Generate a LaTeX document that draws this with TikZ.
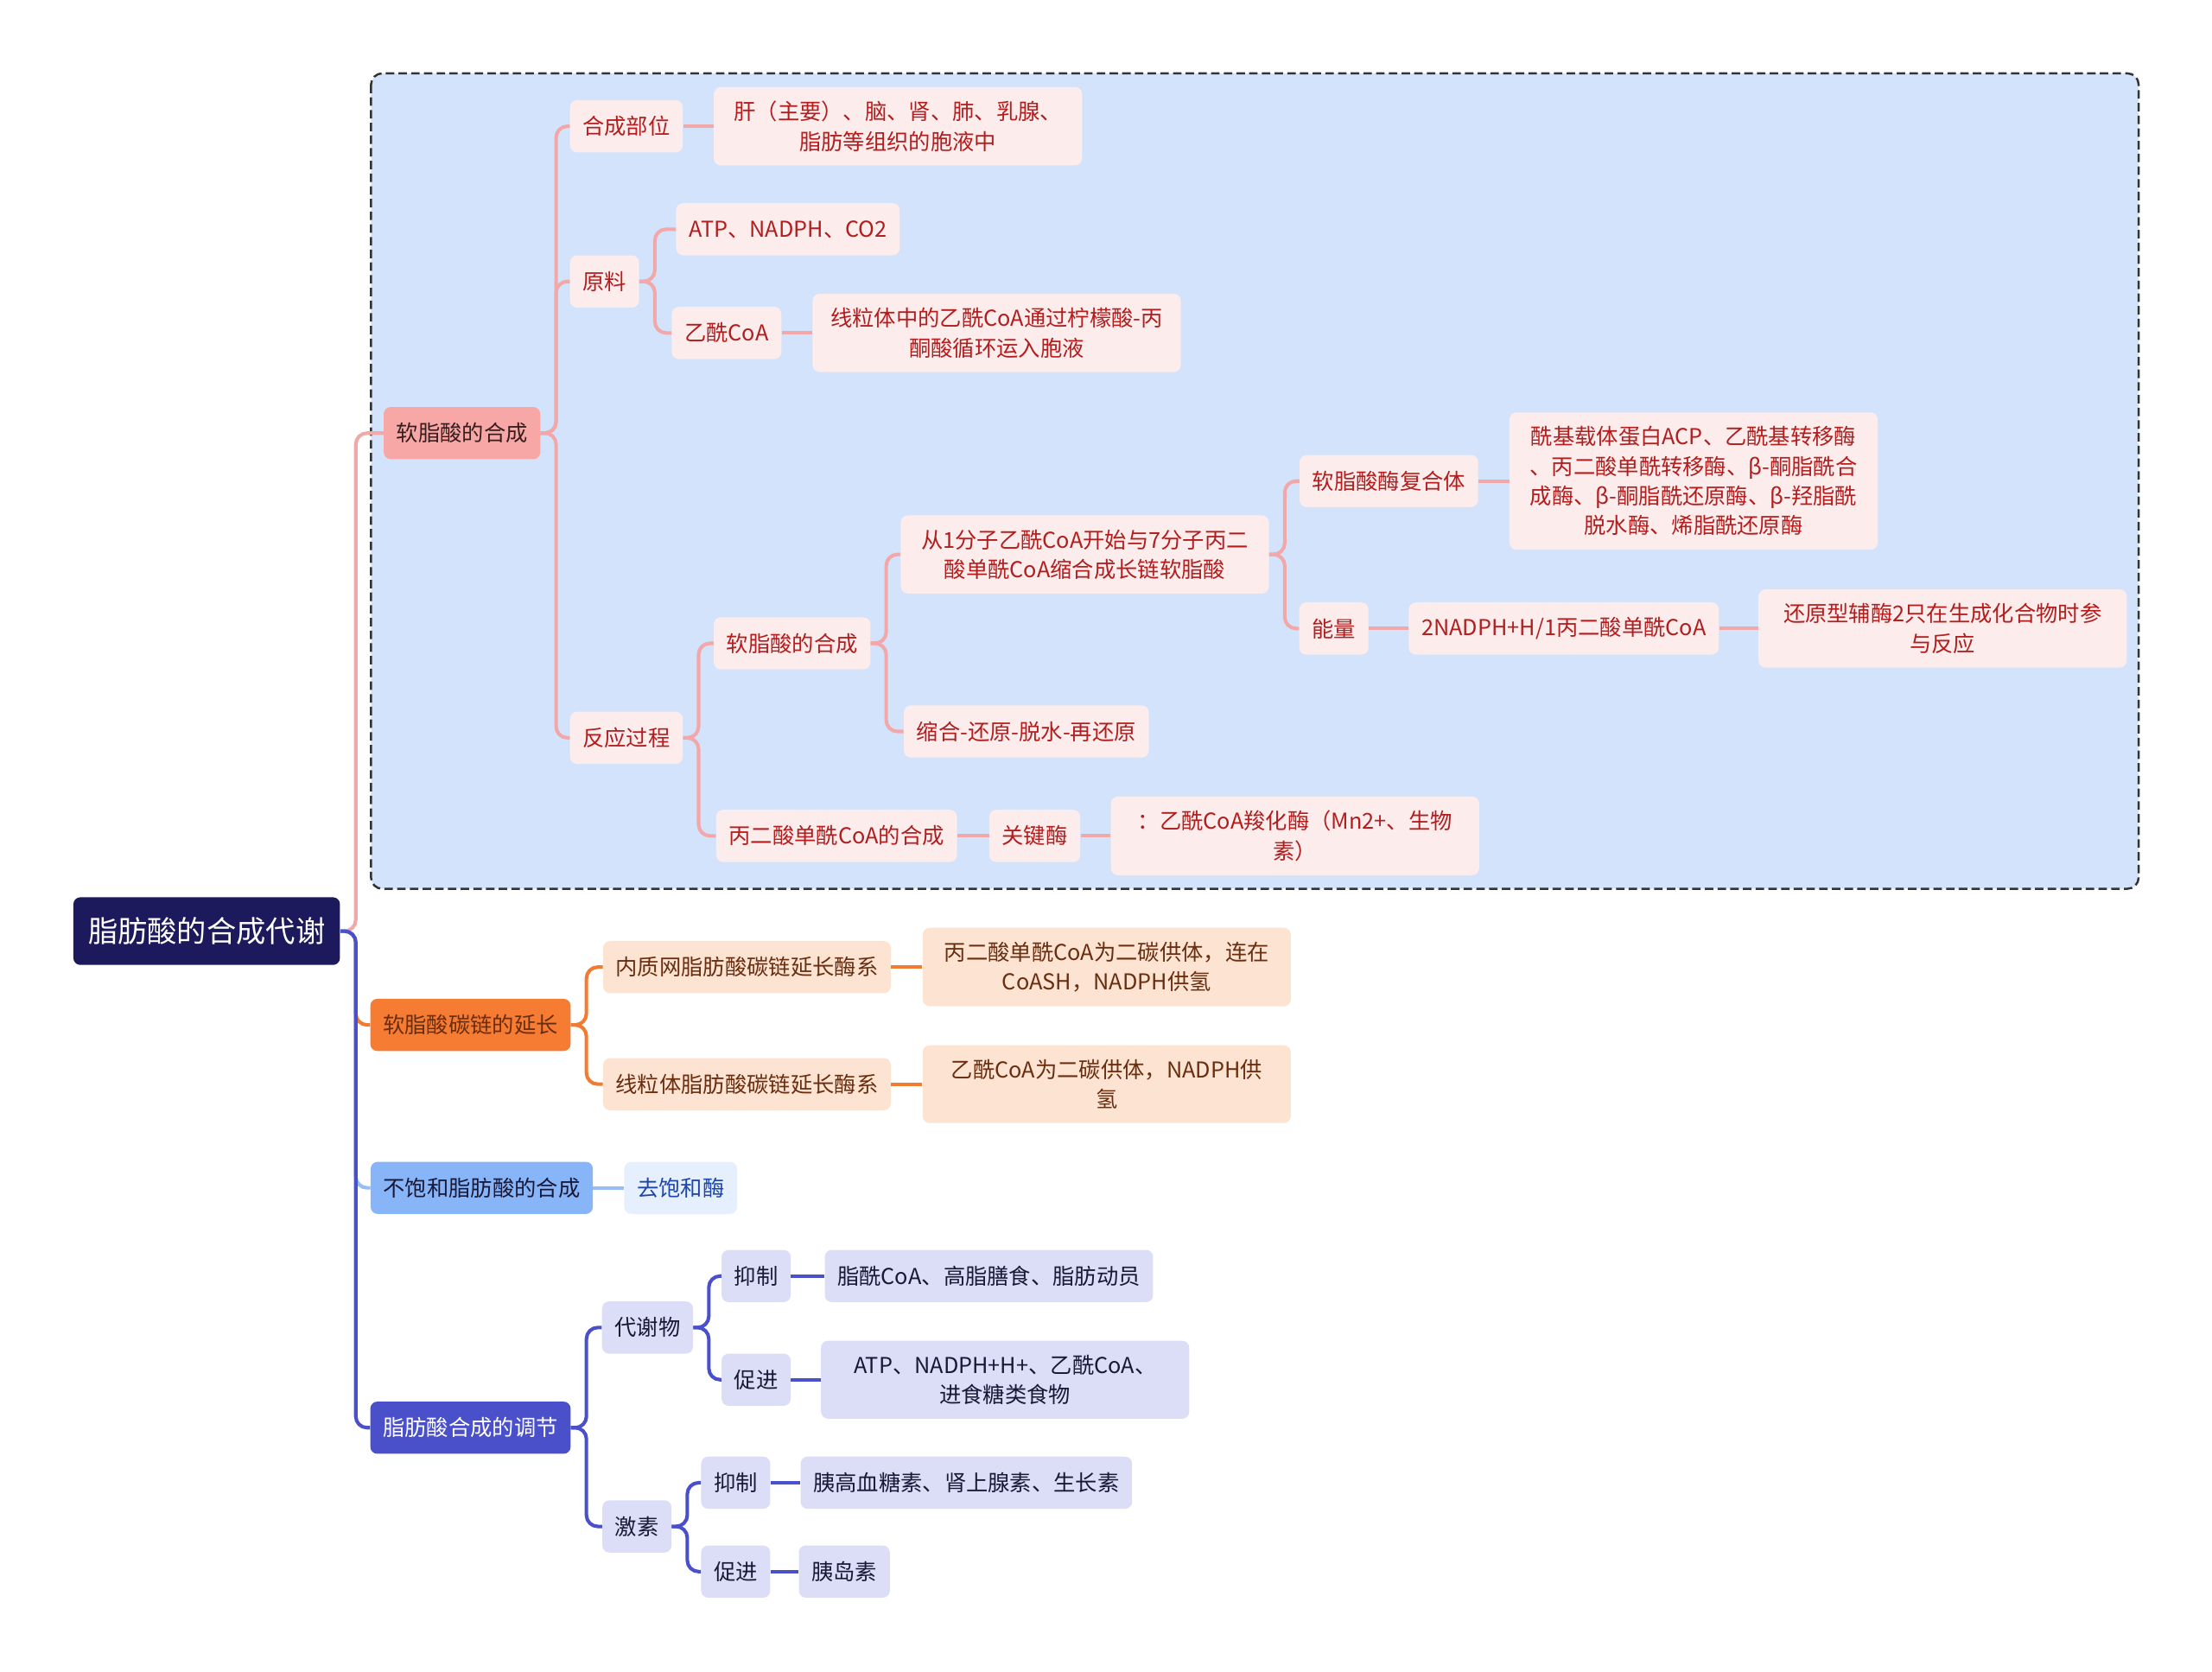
\documentclass[tikz,border=0pt]{standalone}
\usepackage{fontspec}
\newfontfamily\cjk{Noto Sans CJK SC}
\definecolor{rootnavy}{RGB}{28,26,92}
\definecolor{areablue}{RGB}{211,227,252}
\definecolor{pinkhead}{RGB}{247,167,166}
\definecolor{pinkleaf}{RGB}{253,236,236}
\definecolor{pinkink}{RGB}{178,30,30}
\definecolor{pinkwire}{RGB}{242,168,168}
\definecolor{orangehead}{RGB}{246,123,51}
\definecolor{orangeleaf}{RGB}{253,227,210}
\definecolor{orangeink}{RGB}{105,45,15}
\definecolor{orangewire}{RGB}{240,124,50}
\definecolor{bluehead}{RGB}{136,181,248}
\definecolor{blueleaf}{RGB}{230,239,253}
\definecolor{blueink}{RGB}{30,70,170}
\definecolor{bluewire}{RGB}{150,190,245}
\definecolor{indigohead}{RGB}{74,79,202}
\definecolor{indigoleaf}{RGB}{220,221,247}
\definecolor{indigoink}{RGB}{25,25,55}
\definecolor{headink}{RGB}{55,30,30}
\tikzset{
  box/.style={rounded corners=5pt, inner xsep=9pt, inner ysep=10pt, minimum height=37pt,
    align=center, font={\cjk\fontsize{15.5}{21}\selectfont}},
  wrap/.style={text width=245pt, inner xsep=8pt},
  rootbox/.style={box, fill=rootnavy, text=white, inner xsep=10.5pt, minimum height=48pt,
    font={\cjk\fontsize{21}{26}\selectfont}},
  pinktop/.style={box, fill=pinkhead, text=headink},
  pinkbox/.style={box, fill=pinkleaf, text=pinkink},
  orangetop/.style={box, fill=orangehead, text=orangeink},
  orangebox/.style={box, fill=orangeleaf, text=orangeink},
  bluetop/.style={box, fill=bluehead, text=indigoink},
  bluebox/.style={box, fill=blueleaf, text=blueink},
  indigotop/.style={box, fill=indigohead, text=white},
  indigobox/.style={box, fill=indigoleaf, text=indigoink},
  wire/.style={line width=2.5pt, rounded corners=8pt},
}
\begin{document}
\begin{tikzpicture}[x=1pt,y=-1pt]
  \useasboundingbox (0,0) rectangle (1568,1185);
  \draw[fill=areablue, draw=black!80, line width=1.5pt, dash pattern=on 6pt off 3pt, rounded corners=8pt]
    (263,52) rectangle (1516,630);

  \node[rootbox] (root) at (146.5,660) {脂肪酸的合成代谢};

  \node[pinktop] (palm) at (327.5,307) {软脂酸的合成};
  \node[pinkbox] (site) at (444,89.5) {合成部位};
  \node[pinkbox, wrap] (siteT) at (636.5,89.5) {肝（主要）、脑、肾、肺、乳腺、\\脂肪等组织的胞液中};
  \node[pinkbox] (raw) at (428.5,199.5) {原料};
  \node[pinkbox] (rawA) at (558.5,162.5) {ATP、NADPH、CO2};
  \node[pinkbox] (rawB) at (515,236) {乙酰CoA};
  \node[pinkbox, wrap] (rawBT) at (706.5,236) {线粒体中的乙酰CoA通过柠檬酸-丙\\酮酸循环运入胞液};
  \node[pinkbox] (proc) at (444,523) {反应过程};
  \node[pinkbox] (psyn) at (561.5,456) {软脂酸的合成};
  \node[pinkbox, wrap] (pstart) at (769,393) {从1分子乙酰CoA开始与7分子丙二\\酸单酰CoA缩合成长链软脂酸};
  \node[pinkbox] (pstep) at (727.5,518.5) {缩合-还原-脱水-再还原};
  \node[pinkbox] (cplx) at (984.5,341) {软脂酸酶复合体};
  \node[pinkbox, wrap] (cplxT) at (1200.5,341) {酰基载体蛋白ACP、乙酰基转移酶\\、丙二酸单酰转移酶、β-酮脂酰合\\成酶、β-酮脂酰还原酶、β-羟脂酰\\脱水酶、烯脂酰还原酶};
  \node[pinkbox] (energy) at (945.5,445.5) {能量};
  \node[pinkbox] (nadph) at (1108.5,445.5) {2NADPH+H/1丙二酸单酰CoA};
  \node[pinkbox, wrap] (nadphT) at (1377,445.5) {还原型辅酶2只在生成化合物时参\\与反应};
  \node[pinkbox] (mal) at (593,592.5) {丙二酸单酰CoA的合成};
  \node[pinkbox] (key) at (733.5,592.5) {关键酶};
  \node[pinkbox, wrap] (keyT) at (918,592.5) {：乙酰CoA羧化酶（Mn2+、生物\\素）};

  \node[orangetop] (elong) at (333.5,726.5) {软脂酸碳链的延长};
  \node[orangebox] (er) at (529.5,685.5) {内质网脂肪酸碳链延长酶系};
  \node[orangebox, wrap] (erT) at (784.5,685.5) {丙二酸单酰CoA为二碳供体，连在\\CoASH，NADPH供氢};
  \node[orangebox] (mito) at (529.5,768.5) {线粒体脂肪酸碳链延长酶系};
  \node[orangebox, wrap] (mitoT) at (784.5,768.5) {乙酰CoA为二碳供体，NADPH供\\氢};

  \node[bluetop] (unsat) at (341.5,842) {不饱和脂肪酸的合成};
  \node[bluebox] (desat) at (482.5,842) {去饱和酶};

  \node[indigotop] (reg) at (333.5,1012) {脂肪酸合成的调节};
  \node[indigobox] (metab) at (459,941) {代谢物};
  \node[indigobox] (inhA) at (536,904.5) {抑制};
  \node[indigobox] (inhAT) at (701,904.5) {脂酰CoA、高脂膳食、脂肪动员};
  \node[indigobox] (proA) at (536,978) {促进};
  \node[indigobox, wrap] (proAT) at (712.5,978) {ATP、NADPH+H+、乙酰CoA、\\进食糖类食物};
  \node[indigobox] (horm) at (451.5,1082) {激素};
  \node[indigobox] (inhB) at (521.5,1051) {抑制};
  \node[indigobox] (inhBT) at (685,1051) {胰高血糖素、肾上腺素、生长素};
  \node[indigobox] (proB) at (521.5,1114) {促进};
  \node[indigobox] (proBT) at (598.5,1114) {胰岛素};

  % forks
  \foreach \a/\b in {root/palm, palm/site, palm/raw, raw/rawA, raw/rawB, palm/proc, proc/psyn,
    psyn/pstart, psyn/pstep, pstart/cplx, pstart/energy, proc/mal}
    \draw[wire, pinkwire] (\a.east) -- ++(11,0) |- (\b.west);
  \foreach \a/\b in {root/elong, elong/er, elong/mito}
    \draw[wire, orangewire] (\a.east) -- ++(11,0) |- (\b.west);
  \draw[wire, bluewire] (root.east) -- ++(11,0) |- (unsat.west);
  \foreach \a/\b in {root/reg, reg/metab, metab/inhA, metab/proA, reg/horm, horm/inhB, horm/proB}
    \draw[wire, indigohead] (\a.east) -- ++(11,0) |- (\b.west);
  % straight links
  \foreach \a/\b in {site/siteT, rawB/rawBT, cplx/cplxT, energy/nadph, nadph/nadphT, mal/key, key/keyT}
    \draw[wire, pinkwire] (\a.east) -- (\b.west);
  \foreach \a/\b in {er/erT, mito/mitoT}
    \draw[wire, orangewire] (\a.east) -- (\b.west);
  \draw[wire, bluewire] (unsat.east) -- (desat.west);
  \foreach \a/\b in {inhA/inhAT, proA/proAT, inhB/inhBT, proB/proBT}
    \draw[wire, indigohead] (\a.east) -- (\b.west);
\end{tikzpicture}
\end{document}
